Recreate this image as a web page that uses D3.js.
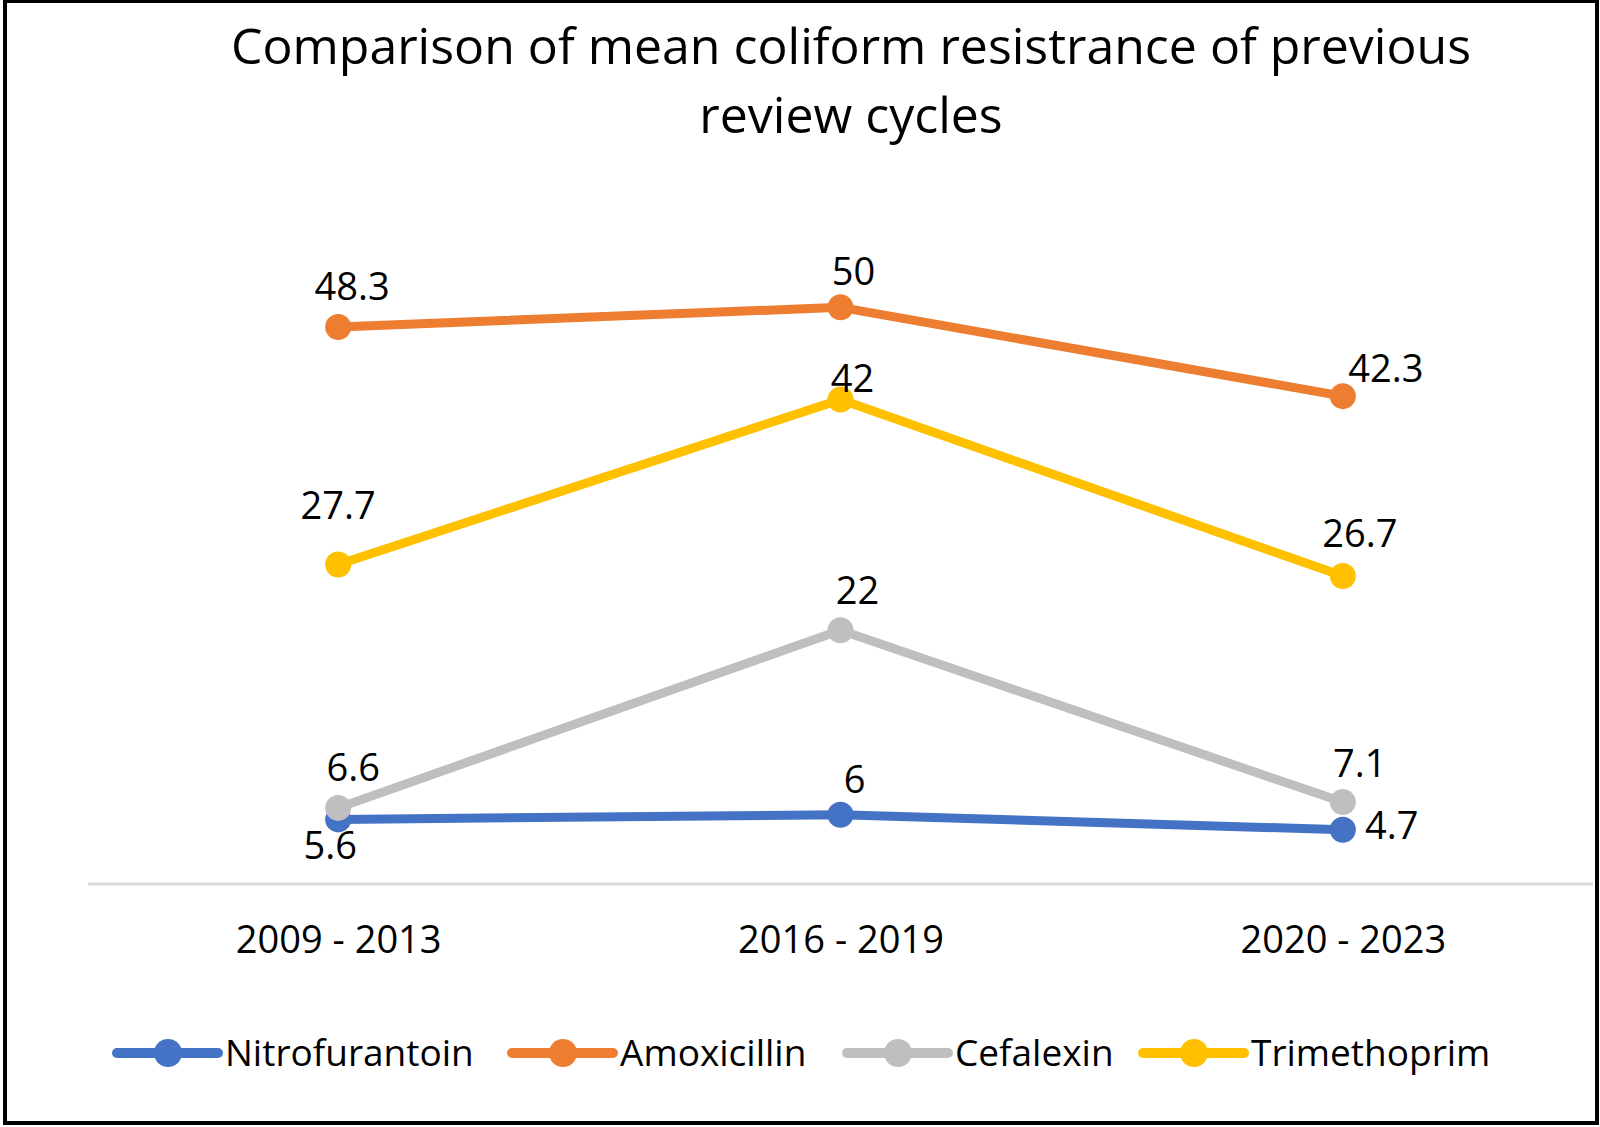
<!DOCTYPE html>
<html>
<head>
<meta charset="utf-8">
<script src="https://cdn.jsdelivr.net/npm/d3@7"></script>
<style>
  html, body { margin: 0; padding: 0; background: #fff; }
  svg { display: block; font-family: "Open Sans", "Noto Sans", sans-serif; }
</style>
</head>
<body>
<div id="chart"></div>
<script>
const categories = ["2009 - 2013", "2016 - 2019", "2020 - 2023"];
const seriesNames = ["Nitrofurantoin", "Amoxicillin", "Cefalexin", "Trimethoprim"];
const nitrofurantoin = [5.6, 6, 4.7];
const amoxicillin = [48.3, 50, 42.3];
const cefalexin = [6.6, 22, 7.1];
const trimethoprim = [27.7, 42, 26.7];
const seriesColors = ["#4472C4", "#ED7D31", "#BFBFBF", "#FFC000"];
// data label nudges [dx, dy] from each marker, as placed in the original
const labelNudge = [
  [[-8, 40], [14, -22], [49, 9]],
  [[14, -27], [13, -22], [43, -14]],
  [[15, -27], [17, -26], [17, -25]],
  [[0, -46], [12, -8], [17, -29]]
];
// legend entry left edges
const legendX = [117, 512, 847, 1143];

const width = 1600, height = 1127;
const series = [nitrofurantoin, amoxicillin, cefalexin, trimethoprim].map((v, i) => ({
  name: seriesNames[i], values: v, color: seriesColors[i], nudge: labelNudge[i]
}));

const svg = d3.select("#chart").append("svg")
  .attr("width", width).attr("height", height);

svg.append("rect").attr("width", width).attr("height", height).attr("fill", "#fff");
svg.append("rect")
  .attr("x", 5).attr("y", 1).attr("width", 1592).attr("height", 1122)
  .attr("fill", "none").attr("stroke", "#000").attr("stroke-width", 4);

// title
const title = svg.append("text")
  .attr("text-anchor", "middle")
  .attr("font-size", 50)
  .attr("fill", "#000");
title.append("tspan").attr("x", 851).attr("y", 64).text("Comparison of mean coliform resistrance of previous");
title.append("tspan").attr("x", 851).attr("y", 133).text("review cycles");

const x = d3.scalePoint().domain(categories).range([87, 1594]).padding(0.5);
const y = d3.scaleLinear().domain([0, 60]).range([884, 192]);

// category axis
const xAxis = svg.append("g")
  .attr("transform", "translate(0," + y(0) + ")")
  .call(d3.axisBottom(x).tickSize(0).tickPadding(42));
xAxis.select(".domain").attr("stroke", "#D9D9D9").attr("stroke-width", 3)
  .attr("d", "M88,0H1593");
xAxis.selectAll("text").attr("font-size", 38).attr("fill", "#000")
  .attr("font-family", "Open Sans, sans-serif");

const line = d3.line().x((d, i) => x(categories[i])).y(d => y(d));

const g = svg.selectAll(".series").data(series).enter()
  .append("g").attr("class", "series");

g.append("path")
  .attr("d", d => line(d.values))
  .attr("fill", "none")
  .attr("stroke", d => d.color)
  .attr("stroke-width", 9)
  .attr("stroke-linejoin", "round");

g.selectAll("circle").data(d => d.values.map(v => ({ v: v, color: d.color })))
  .enter().append("circle")
  .attr("cx", (d, i) => x(categories[i]))
  .attr("cy", d => y(d.v))
  .attr("r", 13)
  .attr("fill", d => d.color);

g.selectAll(".lbl").data(d => d.values.map((v, i) => ({ v: v, n: d.nudge[i] })))
  .enter().append("text")
  .attr("class", "lbl")
  .attr("font-size", 38)
  .attr("fill", "#000")
  .attr("text-anchor", "middle")
  .attr("x", (d, i) => x(categories[i]) + d.n[0])
  .attr("y", d => y(d.v) + d.n[1])
  .text(d => d.v);

// legend
const legend = svg.append("g").attr("transform", "translate(0,1053)");
const item = legend.selectAll(".item").data(series).enter()
  .append("g").attr("class", "item")
  .attr("transform", (d, i) => "translate(" + legendX[i] + ",0)");
item.append("line").attr("x1", 0).attr("x2", 101)
  .attr("stroke", d => d.color).attr("stroke-width", 10).attr("stroke-linecap", "round");
item.append("circle").attr("cx", 51).attr("r", 14).attr("fill", d => d.color);
item.append("text").attr("x", 108).attr("y", 13)
  .attr("font-size", 37).attr("fill", "#000").text(d => d.name);
</script>
</body>
</html>
